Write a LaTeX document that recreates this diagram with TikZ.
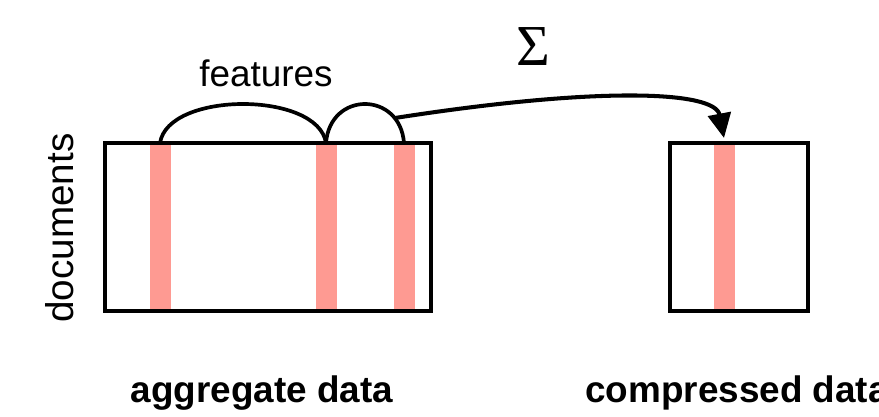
\documentclass[tikz,border=0pt]{standalone}
\usepackage{fontspec}
\setmainfont{Liberation Sans}
\newfontfamily\sigmafont{Liberation Serif}
\usepackage{tikz}
\usetikzlibrary{arrows.meta,positioning,backgrounds}
\definecolor{ink}{HTML}{000000}
\definecolor{salmon}{HTML}{FE9A92}
\tikzset{
  databox/.style={draw=ink,line width=2.3pt,inner sep=0pt,minimum height=3.36cm},
  stripe/.style ={fill=salmon},
  bump/.style   ={draw=ink,line width=2.1pt},
  flow/.style   ={-{Triangle[length=14pt,width=13pt]},line width=2.3pt,draw=ink},
  lbl/.style    ={inner sep=0pt,font=\fontsize{21}{25}\selectfont},
  caption/.style={inner sep=0pt,font=\fontsize{21}{25}\selectfont\bfseries}
}

\begin{document}
\begin{tikzpicture}[x=0.02cm,y=0.02cm]
        \useasboundingbox (0,0) rectangle (879,416);
        \node[databox,minimum width=6.52cm] (aggregate) at (268,189) {};
        \node[databox,minimum width=2.76cm] (compressed) at (739,189) {};
        % selected feature columns
        \begin{scope}[on background layer]
          \foreach \sx in {160,326,404}
            \fill[stripe] (\sx-10.5,105) rectangle (\sx+10.5,273);
          \fill[stripe] (713.5,105) rectangle (734.5,273);
        \end{scope}
        \coordinate (f1) at (160,273);
        \coordinate (f2) at (326,273);
        \coordinate (f3) at (404,273);
        \coordinate (sumend) at (724,278);
        \draw[bump] (f1) .. controls (168,325) and (318,325) .. (f2);
        \draw[bump] (f2) .. controls (330,325) and (400,325) .. coordinate[pos=0.8] (sumstart) (f3);
        \draw[flow] (sumstart) .. controls (600,330) and (715,325) .. (sumend);
        \node[lbl] (feat) at (266,343) {features};
        \node[lbl,rotate=90,font=\fontsize{22}{26}\selectfont] (docs) at (60,188) {documents};
        \node[inner sep=0pt,font=\fontsize{33}{37}\sigmafont] (sum) at (533,369) {Σ};
        \node[caption,anchor=base] (agglbl) at (262,14) {aggregate data};
        \node[caption,anchor=base west] (complbl) at (585,14) {compressed data};
      \end{tikzpicture}
\end{document}
